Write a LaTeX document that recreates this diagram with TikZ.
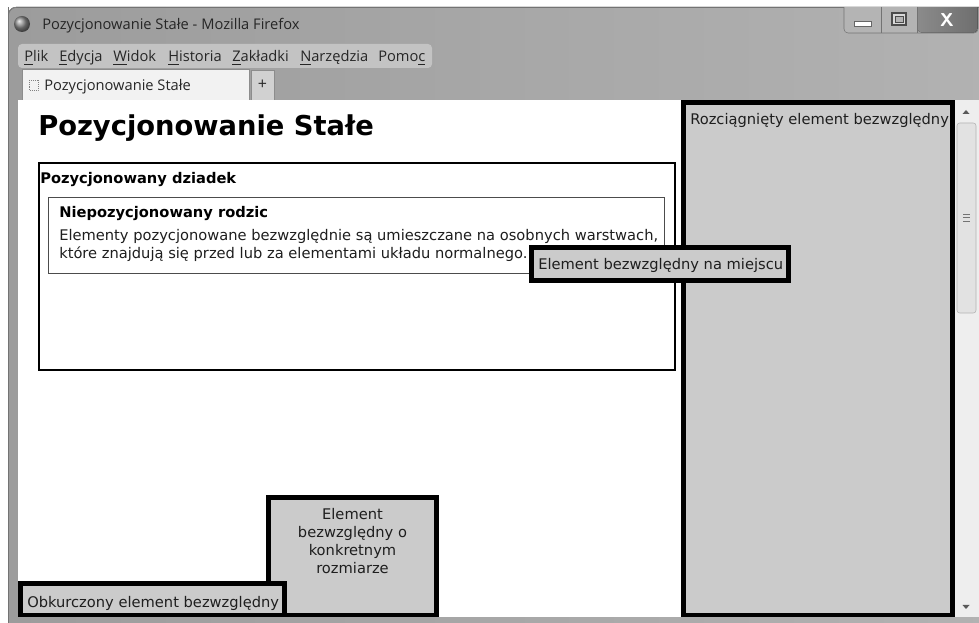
\documentclass[tikz,border=0pt]{standalone}
\usepackage{fontspec}
\setmainfont{DejaVu Sans}
\newfontfamily\uifont{Open Sans}
\usetikzlibrary{positioning}
\definecolor{frameA}{HTML}{9C9C9C}
\definecolor{frameB}{HTML}{B2B2B2}
\definecolor{menugray}{HTML}{C3C3C3}
\definecolor{boxgray}{HTML}{CBCBCB}
\definecolor{scrollbg}{HTML}{EEEEEE}
\definecolor{thumbgray}{HTML}{E2E2E2}
\definecolor{textdark}{HTML}{1E1E1E}
\definecolor{btngray}{HTML}{B4B4B4}
\definecolor{closegray}{HTML}{6E6E6E}

\begin{document}
\begin{tikzpicture}[x=0.75pt,y=-0.75pt,
absbox/.style={draw=black,line width=3.75pt,fill=boxgray},
pagetext/.style={font=\fontsize{11pt}{13.5pt}\selectfont,text=textdark,inner sep=0pt},
uitext/.style={font=\uifont\fontsize{11pt}{13pt}\selectfont,text=black!85,inner sep=0pt},
tabedge/.style={draw=black!45,line width=0.75pt}]
\clip (0,0) rectangle (979,623);
% The window frame
\fill[white] (0,0) rectangle (979,623);
\fill[left color=frameA,right color=frameB,rounded corners=6pt] (8,7) rectangle (995,640);
\draw[black!55,rounded corners=6pt] (8.5,7.5) -- (8.5,640);
\draw[black!55,rounded corners=6pt] (8.5,60) |- (995,7.5);

% Title bar
\shade[ball color=black!45] (22,24) circle[radius=6pt];
\node[uitext,anchor=base west] (title) at (42,30) {Pozycjonowanie Stałe - Mozilla Firefox};

% Window buttons
\begin{scope}
\clip (800,7.5) rectangle (979,40);
\draw[black!55,fill=btngray,rounded corners=3pt] (844,-5) rectangle (978,33);
\fill[left color=closegray!80,right color=closegray,rounded corners=3pt] (917.5,-5) rectangle (977.5,32.5);
\end{scope}
\draw[black!55] (881,7) -- (881,33);
\draw[black!55] (917,7) -- (917,33);
\fill[white,draw=black!60] (854,21) rectangle (871,26);
\draw[black!70,fill=white!85!black,line width=1.2pt] (892,13) rectangle (906,25);
\draw[black!70,fill=btngray] (895,16) rectangle (903,22);
\node[font=\sffamily\bfseries\fontsize{14pt}{14pt}\selectfont,text=white,inner sep=0pt] (closex) at (947,20) {X};

% Menu bar
\fill[menugray,rounded corners=3pt] (18,44) rectangle (432,68);
\foreach \xx/\txt [count=\i] in {24/{\underline{P}lik},59/{\underline{E}dycja},113/{\underline{W}idok},
  168/{\underline{H}istoria},232/{\underline{Z}akładki},300/{\underline{N}arzędzia},378/{Pomo\underline{c}}}
{
  \node[uitext,anchor=base west] (menu\i) at (\xx,62) {\txt};
}

% Tabs
\draw[tabedge,fill=white!95!black] (22,70) rectangle (249,101);
\draw[black!50,densely dotted] (29,80) rectangle (38,90);
\node[uitext,anchor=base west] (tabtitle) at (44,91) {Pozycjonowanie Stałe};
\draw[tabedge,fill=black!18] (251,71) rectangle (274,101);
\node[uitext,font=\uifont\fontsize{12pt}{12pt}\selectfont] (plus) at (262.5,85) {+};

% Content area and scroll bar
\fill[white] (18,100) rectangle (955,617);
\fill[scrollbg] (955,100) rectangle (979,617);
\draw[black!30,fill=thumbgray,rounded corners=2pt] (957,123) rectangle (976,313);
\foreach \yy in {214,217.5,221}
  \draw[black!55] (963,\yy) -- (970,\yy);
\fill[black!65] (962.5,114) -- (969.5,114) -- (966,110) -- cycle;
\fill[black!65] (962.5,605) -- (969.5,605) -- (966,609) -- cycle;

\begin{scope}
\clip (18,100) rectangle (955,617);
% Heading
\node[pagetext,font=\bfseries\fontsize{20.5pt}{24pt}\selectfont,text=black,anchor=base west] (heading) at (38,136) {Pozycjonowanie Stałe};

% Positioned grandparent and unpositioned parent
\draw[line width=1.5pt] (39,163) rectangle (675,370);
\node[pagetext,font=\bfseries\fontsize{11pt}{13.5pt}\selectfont,text=black,anchor=base west] (grandparent) at (40,184) {Pozycjonowany dziadek};
\draw[black!70,line width=0.75pt] (48.5,197.5) rectangle (664.5,273.5);
\node[pagetext,font=\bfseries\fontsize{11pt}{13.5pt}\selectfont,text=black,anchor=base west] (parent) at (59,218) {Niepozycjonowany rodzic};
\node[pagetext,anchor=base west] (bodyA) at (59,241) {Elementy pozycjonowane bezwzględnie są umieszczane na osobnych warstwach,};
\node[pagetext,anchor=base west] (bodyB) at (59,259) {które znajdują się przed lub za elementami układu normalnego.};

% Stretched absolute element
\draw[absbox] (683.5,102.5) rectangle (952.5,615.5);
\node[pagetext,anchor=base west] (stretched) at (690,125) {Rozciągnięty element bezwzględny};

% Absolute element in place
\draw[absbox] (531.5,247.5) rectangle (788.5,280.5);
\node[pagetext,anchor=base west] (inplace) at (538,270) {Element bezwzględny na miejscu};

% Absolute element with a fixed size
\draw[absbox] (268.5,497.5) rectangle (436.5,615.5);
\node[pagetext,align=center,anchor=north] (fixedsize) at (352.5,508) {Element\\bezwzględny o\\konkretnym\\rozmiarze};

% Shrunk absolute element
\draw[absbox] (20.5,583.5) rectangle (284.5,615.5);
\node[pagetext,anchor=base west] (shrunk) at (27,608) {Obkurczony element bezwzględny};
\end{scope}
\end{tikzpicture}
\end{document}
